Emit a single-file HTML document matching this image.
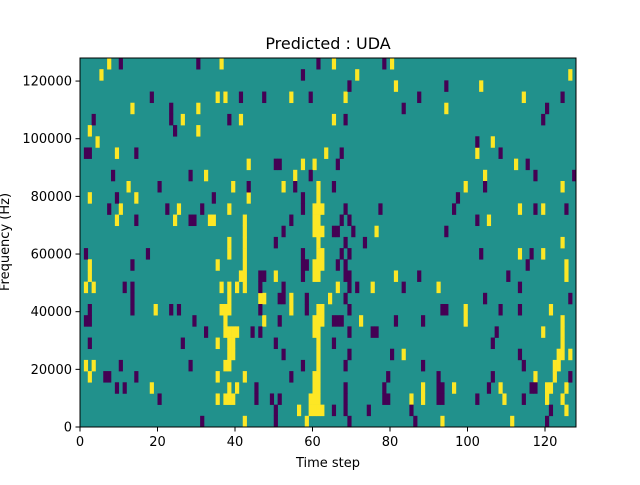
<!DOCTYPE html>
<html><head><meta charset="utf-8"><style>
body{margin:0;background:#fff;width:640px;height:480px;overflow:hidden}
text{font-family:"DejaVu Sans","Liberation Sans",sans-serif;fill:#000}
</style></head><body>
<svg id="chart" width="640" height="480" xmlns="http://www.w3.org/2000/svg">
<rect width="640" height="480" fill="#fff"/>
<text x="328" y="49" font-size="16" text-anchor="middle">Predicted : UDA</text>
<rect id="bg" x="80" y="58" width="496" height="369" fill="#21918c"/>
<g id="cells"></g>
<rect x="80" y="58" width="496" height="369" fill="none" stroke="#000" stroke-width="1"/>
<g id="axes"></g>
<text x="328" y="467" font-size="13" text-anchor="middle">Time step</text>
<text transform="translate(9,242) rotate(-90)" font-size="13" text-anchor="middle">Frequency (Hz)</text>
</svg>
<script>
const nTime = 128;
const nBins = 33;
const fMax = 128000;
const xTicks = [0, 20, 40, 60, 80, 100, 120];
const yTicks = [0, 20000, 40000, 60000, 80000, 100000, 120000];
const yTickLabels = ["0", "20000", "40000", "60000", "80000", "100000", "120000"];
// rows listed from top (bin index = 32 - row)
const yellowRows = [
[7,36,65,80],[5,71,126],[81,103],[35,37,54,68,114],[13,30,94],[26,41,65],[2,30],[4,106],
[9,63,102],[43,57,60,112],[32,55,104],[12,39,52,61,99,124],[2,14,43,61],
[10,25,38,60,61,62,113,119],[9,24,33,34,42,60,61,105],[42,60,61,62,76],[38,42,61,124],
[38,42,61,62,113,119],[2,35,42,60,61,62,125],[2,41,42,50,60,61,81,125],
[1,3,36,38,40,42,66,75,92],[38,46,47,54,64],[19,36,37,38,54,61,62,99,121],
[37,47,60,61,62,72,99,124],[37,38,39,40,60,61,119,124],[35,38,39,61,124],
[38,39,61,83,123,124,126],[1,3,37,38,61,122,123],[2,35,42,60,61,117,122],
[18,38,40,60,61,88,96,108,120,121,125],[35,37,38,39,59,60,61,85,88,109,120,124],
[56,59,60,61,62,125],[42,58,93,111]
];
const purpleRows = [
[10,30,61,78],[57],[69,94],[18,41,47,59,87,124],[23,83,120],[3,23,38,68,119],[24],[102],
[1,2,14,67,108],[50,51,66,115],[8,28,59,117,127],[20,43,55,65,104],[9,34,57,97],
[7,22,31,57,68,77,96,117,125],[14,28,29,54,67,69,102],[52,65,66,70,94],[50,68,73],
[1,17,57,67,69,103,116],[13,57,58,66,68,115],[46,47,57,68,69,87,110],
[11,13,46,52,69,71,83,113],[13,51,52,58,68,104,126],[2,13,23,25,46,58,69,93,94,108,113],
[1,2,29,51,65,66,67,81,88],[32,44,46,69,75,76,107],[2,26,50,65,106],[52,69,80,113],
[10,28,57,68,88,114],[6,7,14,54,79,92,106,126],[9,11,45,68,78,92,93,105,116,117],
[20,45,49,51,68,78,79,92,93,102,114],[50,65,68,74,85,121],[31,50,69,86,120]
];
const X0=80,X1=576,Y0=58,Y1=427;
const xs=t=>X0+t/nTime*(X1-X0);
const yf=v=>Y1-v/fMax*(Y1-Y0);
const rowY=b=>Y1-(b+1)/nBins*(Y1-Y0);
const NS="http://www.w3.org/2000/svg";
const g=document.getElementById('cells');
function draw(rows,color,kind){
  rows.forEach((cols,r)=>{
    const bin=nBins-1-r;
    cols.forEach(t=>{
      const el=document.createElementNS(NS,'rect');
      el.setAttribute('x',xs(t));
      el.setAttribute('y',rowY(bin));
      el.setAttribute('width',xs(t+1)-xs(t)+0.3);
      el.setAttribute('height',(Y1-Y0)/nBins+0.3);
      el.setAttribute('fill',color);
      
      
      g.appendChild(el);
    });
  });
}
draw(yellowRows,'#fde725','cell-high');
draw(purpleRows,'#440154','cell-low');
const ax=document.getElementById('axes');
xTicks.forEach(t=>{
  const l=document.createElementNS(NS,'line');
  l.setAttribute('x1',xs(t));l.setAttribute('x2',xs(t));
  l.setAttribute('y1',Y1);l.setAttribute('y2',Y1+4.5);
  l.setAttribute('stroke','#000');
  
  
  ax.appendChild(l);
  const tx=document.createElementNS(NS,'text');
  tx.setAttribute('x',xs(t));tx.setAttribute('y',Y1+19);
  tx.setAttribute('font-size','13');tx.setAttribute('text-anchor','middle');
  tx.textContent=String(t);
  
  
  ax.appendChild(tx);
});
yTicks.forEach((v,i)=>{
  const l=document.createElementNS(NS,'line');
  l.setAttribute('x1',X0-4.5);l.setAttribute('x2',X0);
  l.setAttribute('y1',yf(v));l.setAttribute('y2',yf(v));
  l.setAttribute('stroke','#000');
  
  
  ax.appendChild(l);
  const tx=document.createElementNS(NS,'text');
  tx.setAttribute('x',X0-8);tx.setAttribute('y',yf(v)+4.5);
  tx.setAttribute('font-size','13');tx.setAttribute('text-anchor','end');
  tx.textContent=yTickLabels[i];
  
  
  ax.appendChild(tx);
});
</script>
</body></html>
